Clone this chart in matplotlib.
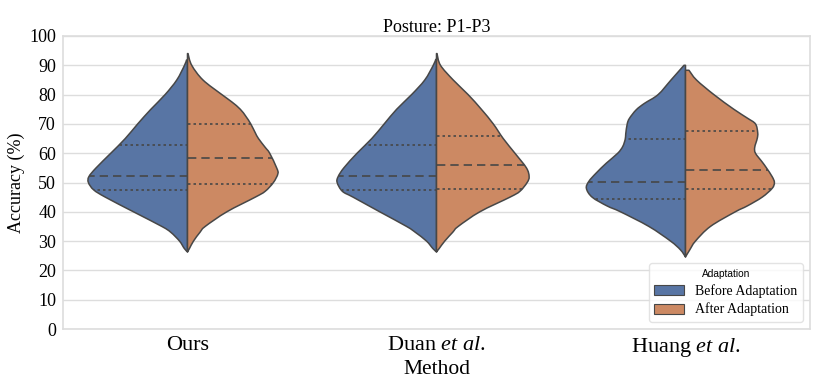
import numpy as np
import matplotlib
matplotlib.use("Agg")
import matplotlib.pyplot as plt
from matplotlib.patches import Patch, PathPatch
from matplotlib.path import Path

plt.rcParams["mathtext.fontset"] = "custom"
plt.rcParams["mathtext.rm"] = "Liberation Serif"
plt.rcParams["mathtext.it"] = "Liberation Serif:italic"

# ---------------- data ----------------
methods = ["Ours", "Duan $\\mathit{et\\ al.}$", "Huang $\\mathit{et\\ al.}$"]
groups = ["Before Adaptation", "After Adaptation"]

# density profiles: accuracy levels and half-widths (category units)
ours_before_y = [26.3, 27.5, 30, 33, 35, 40, 45, 47.5, 50, 52, 55, 60, 65, 70, 75, 80, 85, 90, 91.8]
ours_before_w = [0, 0.013, 0.032, 0.067, 0.103, 0.217, 0.33, 0.377, 0.398, 0.396, 0.367, 0.308, 0.25, 0.2, 0.147, 0.09, 0.043, 0.012, 0.004]
ours_after_y = [26.3, 27.5, 30, 33, 35, 40, 45, 47, 50, 53, 55, 60, 62, 65, 67, 70, 72.5, 75, 77.5, 80, 85, 90, 94]
ours_after_w = [0, 0.008, 0.024, 0.05, 0.071, 0.158, 0.272, 0.312, 0.345, 0.363, 0.358, 0.33, 0.312, 0.285, 0.272, 0.254, 0.235, 0.212, 0.178, 0.138, 0.062, 0.017, 0.002]

duan_before_y = [26.3, 27.5, 30, 33, 35, 40, 45, 47, 50, 52, 55, 60, 65, 70, 75, 80, 85, 90, 92]
duan_before_w = [0, 0.015, 0.04, 0.085, 0.12, 0.228, 0.335, 0.378, 0.399, 0.395, 0.372, 0.319, 0.26, 0.21, 0.16, 0.1, 0.047, 0.013, 0.003]
duan_after_y = [26.3, 27.5, 30, 33, 35, 40, 45, 47, 50, 52, 55, 60, 65, 70, 75, 80, 85, 90, 94]
duan_after_w = [0, 0.011, 0.033, 0.065, 0.087, 0.174, 0.295, 0.335, 0.364, 0.372, 0.361, 0.315, 0.268, 0.228, 0.18, 0.127, 0.067, 0.016, 0.002]

huang_before_y = [24.6, 27, 30, 35, 40, 42, 45, 48, 50.4, 53.2, 56.6, 60, 62.3, 64.8, 66.6, 70, 71.9, 74.8, 77, 80, 85, 90]
huang_before_w = [0, 0.02, 0.06, 0.147, 0.261, 0.315, 0.375, 0.398, 0.388, 0.359, 0.318, 0.272, 0.252, 0.242, 0.24, 0.234, 0.225, 0.198, 0.165, 0.11, 0.058, 0.006]
huang_after_y = [24.6, 27, 30, 35, 40, 42, 45, 48, 50, 52, 55, 57, 60, 62, 65, 67, 70, 72, 75, 80, 85, 88.3]
huang_after_w = [0, 0.017, 0.04, 0.1, 0.2, 0.248, 0.308, 0.348, 0.357, 0.348, 0.325, 0.308, 0.281, 0.278, 0.288, 0.29, 0.281, 0.248, 0.194, 0.114, 0.044, 0.014]

# quartiles [Q1, median, Q3]
ours_before_q = [47.5, 52.2, 62.8]
ours_after_q = [49.6, 58.4, 69.8]
duan_before_q = [47.5, 52.2, 62.8]
duan_after_q = [47.9, 55.9, 66.0]
huang_before_q = [44.5, 50.1, 64.8]
huang_after_q = [47.9, 54.4, 67.5]

yticks = [0, 10, 20, 30, 40, 50, 60, 70, 80, 90, 100]

# ---------------- style ----------------
c_before = "#5875A4"
c_after = "#CC8963"
edge = "#474747"
serif = "Liberation Serif"


def smooth_half(center, side, ys, ws):
    """Closed path: centre line + Catmull-Rom curve through the read edge points."""
    pts = np.column_stack([center + side * np.asarray(ws, float), np.asarray(ys, float)])
    n = len(pts)
    ext = np.vstack([pts[0], pts, pts[-1]])
    verts = [(center, pts[0, 1]), tuple(pts[0])]
    codes = [Path.MOVETO, Path.LINETO]
    for k in range(n - 1):
        p0, p1, p2, p3 = ext[k], ext[k + 1], ext[k + 2], ext[k + 3]
        c1 = p1 + (p2 - p0) / 6.0
        c2 = p2 - (p3 - p1) / 6.0
        verts += [tuple(c1), tuple(c2), tuple(p2)]
        codes += [Path.CURVE4] * 3
    verts += [(center, pts[-1, 1]), (center, pts[0, 1])]
    codes += [Path.LINETO, Path.CLOSEPOLY]
    return Path(verts, codes)


fig = plt.figure(figsize=(8.30, 3.81), dpi=100)
ax = fig.add_axes([63 / 830, 1 - 329 / 381, (810 - 63) / 830, (329 - 36) / 381])

profiles = [
    (ours_before_y, ours_before_w, ours_before_q, ours_after_y, ours_after_w, ours_after_q),
    (duan_before_y, duan_before_w, duan_before_q, duan_after_y, duan_after_w, duan_after_q),
    (huang_before_y, huang_before_w, huang_before_q, huang_after_y, huang_after_w, huang_after_q),
]

for i, (by, bw, bq, ay, aw, aq) in enumerate(profiles):
    for ys, ws, qs, side, col in [(by, bw, bq, -1, c_before), (ay, aw, aq, 1, c_after)]:
        path = smooth_half(i, side, ys, ws)
        ax.add_patch(PathPatch(path, facecolor=col, edgecolor=edge, linewidth=1.1,
                               joinstyle="round", zorder=3))
        for k, q in enumerate(qs):
            wq = np.interp(q, ys, ws)
            ls = (0, (5, 3)) if k == 1 else (0, (1.5, 1.8))
            ax.plot([i, i + side * wq], [q, q], color=edge, lw=1.2, ls=ls, zorder=4)

ax.set_xlim(-0.5, 2.5)
ax.set_ylim(0, 100)
ax.set_yticks(yticks)
ax.set_yticklabels([str(t) for t in yticks], fontfamily=serif, fontsize=13)
ax.set_xticks([0, 1, 2])
ax.set_xticklabels(methods, fontfamily=serif, fontsize=16)
ax.tick_params(axis="both", length=0, pad=5)
ax.set_xlabel("Method", fontfamily=serif, fontsize=15.5, labelpad=1)
ax.set_ylabel("Accuracy (%)", fontfamily=serif, fontsize=13, labelpad=3)
ax.set_title("Posture: P1-P3", fontfamily=serif, fontsize=13, pad=3)

ax.yaxis.grid(True, color="#dddddd", lw=1.0, zorder=0)
ax.set_axisbelow(True)
for s in ax.spines.values():
    s.set_color("#dddddd")
    s.set_linewidth(1.2)

handles = [Patch(facecolor=c_before, edgecolor=edge, lw=0.8),
           Patch(facecolor=c_after, edgecolor=edge, lw=0.8)]
leg = ax.legend(handles, groups, title="Adaptation", loc="lower right",
                prop={"family": serif, "size": 10},
                title_fontproperties={"family": "Liberation Sans", "size": 7.3},
                handlelength=2.15, handleheight=0.75, handletextpad=0.8,
                labelspacing=0.37, frameon=True, borderaxespad=0.5)
leg.get_frame().set_edgecolor("#dddddd")

fig.savefig("out.png", dpi=100)
